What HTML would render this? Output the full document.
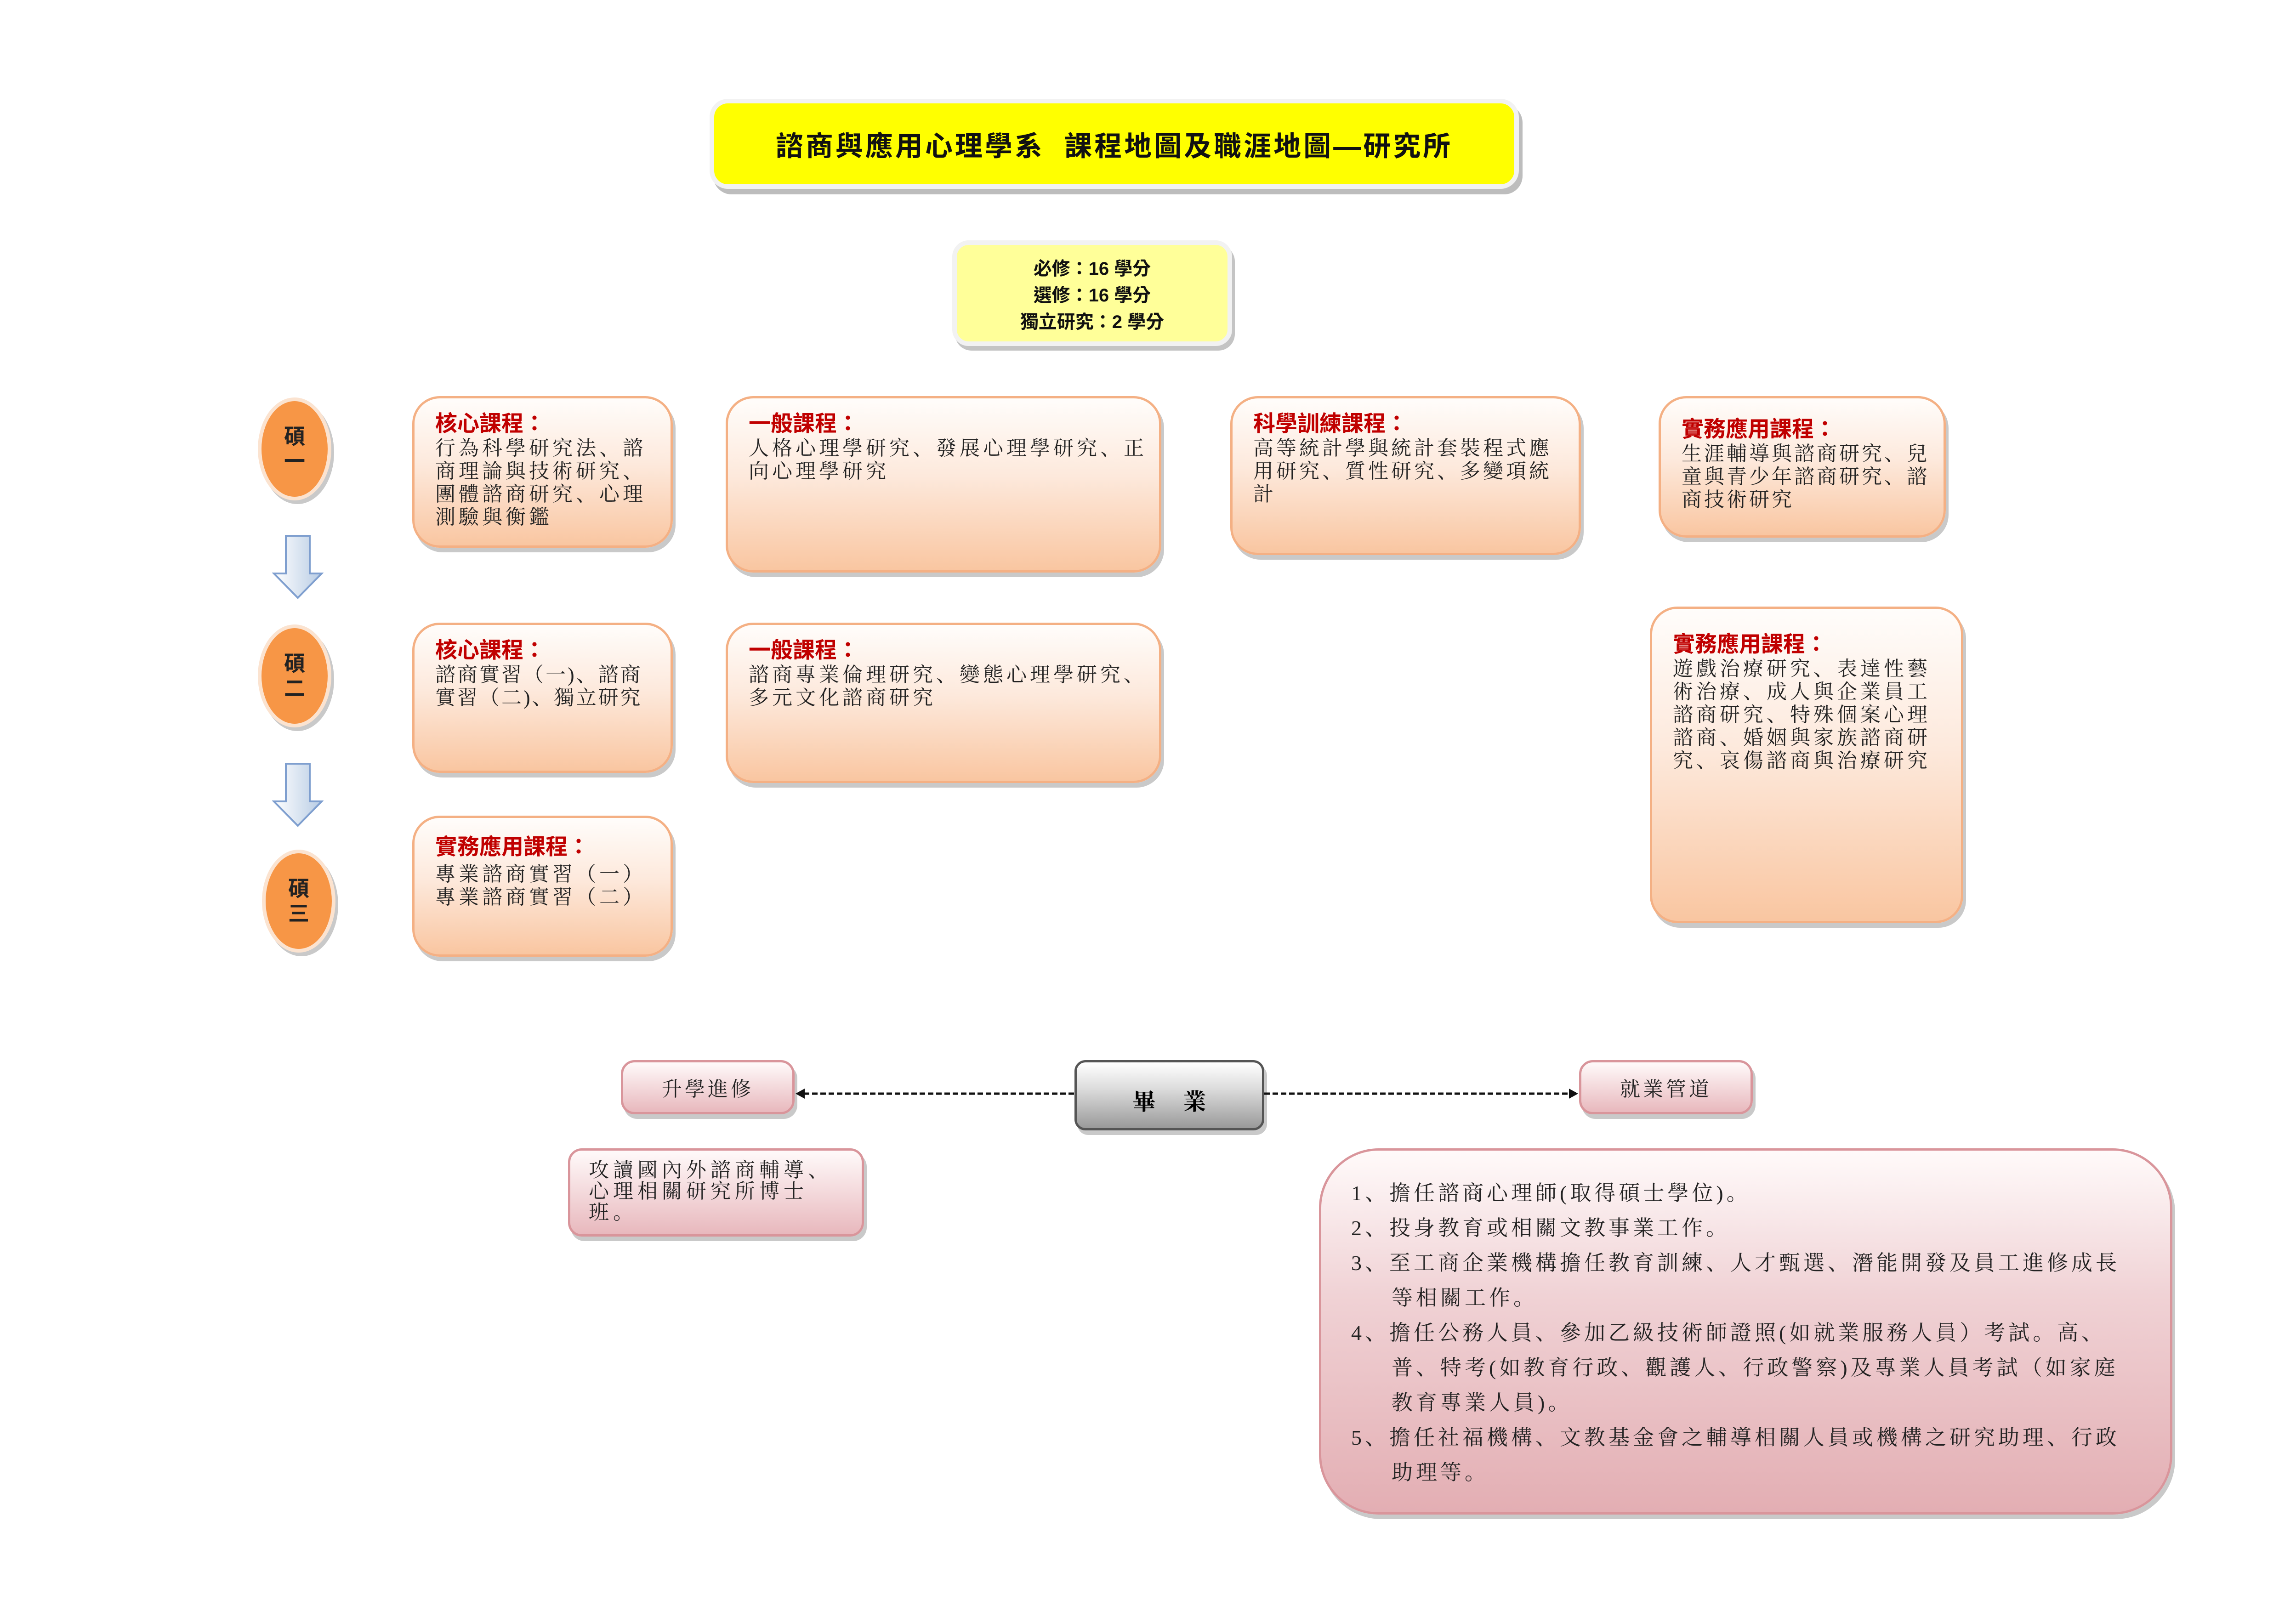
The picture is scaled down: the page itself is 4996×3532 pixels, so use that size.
<!DOCTYPE html>
<html><head><meta charset="utf-8"><style>
body{margin:0;width:4996px;height:3532px;background:#fff;position:relative;overflow:hidden;font-family:"Liberation Serif","Noto Serif CJK SC",serif;}
#w{position:absolute;left:0;top:0;width:4996px;height:3532px;transform:translate(-16px,-9px);}
.a{position:absolute;box-sizing:border-box;}
.or{border:5px solid #f4b084;border-radius:60px;background:linear-gradient(#fffdfb,#fde9dc 45%,#f9c6a1);box-shadow:6px 10px 0 #c9c9c9;padding:28px 10px 0 45px;font-size:44px;line-height:50px;letter-spacing:7px;color:#222;white-space:nowrap;}
.or b{display:block;color:#c00000;font-family:"Liberation Sans","Noto Sans CJK TC",sans-serif;font-size:48px;letter-spacing:0;line-height:56px;font-weight:bold;}
.pk{border:5px solid #d9959b;border-radius:30px;background:linear-gradient(#fffafa,#e8b8bd);box-shadow:6px 10px 0 #c9c9c9;color:#222;font-size:44px;letter-spacing:6px;white-space:nowrap;}
.circ{border-radius:50%;background:#f79646;border:8px solid #fbe3d0;box-shadow:6px 8px 0 #c9c9c9;font-family:"Liberation Sans","Noto Sans CJK TC",sans-serif;font-weight:bold;font-size:46px;line-height:54px;text-align:center;color:#222;display:flex;align-items:center;justify-content:center;}
.arr{width:112px;height:141px;}
.cr div{padding-left:88px;text-indent:-88px}
</style></head><body><div id="w">
<div class="a" style="left:1560px;top:224px;width:1761px;height:196px;background:#ffff00;border:10px solid #f2f2f2;border-radius:40px;box-shadow:8px 12px 0 #bdbdbd;font-family:'Liberation Sans','Noto Sans CJK TC',sans-serif;font-weight:bold;font-size:60px;letter-spacing:5px;display:flex;align-items:center;justify-content:center;color:#111;">諮商與應用心理學系&nbsp;&nbsp;課程地圖及職涯地圖—研究所</div>
<div class="a" style="left:2088px;top:532px;width:609px;height:230px;background:#ffff99;border:10px solid #f2f2f2;border-radius:36px;box-shadow:6px 10px 0 #c4c4c4;font-family:'Liberation Sans','Noto Sans CJK TC',sans-serif;font-weight:bold;font-size:40px;line-height:58px;text-align:center;padding-top:23px;color:#111;">必修：16 學分<br>選修：16 學分<br>獨立研究：2 學分</div>

<div class="a circ" style="left:577px;top:874px;width:160px;height:224px;">碩<br>一</div>
<div class="a circ" style="left:577px;top:1368px;width:160px;height:224px;">碩<br>二</div>
<div class="a circ" style="left:586px;top:1858px;width:160px;height:224px;">碩<br>三</div>

<svg class="a arr" style="left:608px;top:1172px" viewBox="0 0 112 141"><defs><linearGradient id="g" x1="0" x2="1"><stop offset="0" stop-color="#fff"/><stop offset="1" stop-color="#b8cce4"/></linearGradient></defs><polygon points="30,3 82,3 82,85 108,85 56,138 4,85 30,85" fill="url(#g)" stroke="#7f9fcf" stroke-width="4"/></svg>
<svg class="a arr" style="left:608px;top:1668px" viewBox="0 0 112 141"><polygon points="30,3 82,3 82,85 108,85 56,138 4,85 30,85" fill="url(#g)" stroke="#7f9fcf" stroke-width="4"/></svg>

<div class="a or" style="left:913px;top:871px;width:567px;height:330px;"><b>核心課程：</b>行為科學研究法、諮<br>商理論與技術研究、<br>團體諮商研究、心理<br>測驗與衡鑑</div>
<div class="a or" style="left:1595px;top:871px;width:948px;height:384px;"><b>一般課程：</b>人格心理學研究、發展心理學研究、正<br>向心理學研究</div>
<div class="a or" style="left:2693px;top:871px;width:763px;height:346px;letter-spacing:6px;"><b>科學訓練課程：</b>高等統計學與統計套裝程式應<br>用研究、質性研究、多變項統<br>計</div>
<div class="a or" style="left:3625px;top:871px;width:625px;height:308px;padding-top:40px;letter-spacing:5px;"><b>實務應用課程：</b>生涯輔導與諮商研究、兒<br>童與青少年諮商研究、諮<br>商技術研究</div>

<div class="a or" style="left:913px;top:1364px;width:567px;height:327px;letter-spacing:4px;"><b>核心課程：</b>諮商實習（一)、諮商<br>實習（二)、獨立研究</div>
<div class="a or" style="left:1595px;top:1364px;width:948px;height:349px;"><b>一般課程：</b>諮商專業倫理研究、變態心理學研究、<br>多元文化諮商研究</div>
<div class="a or" style="left:3606px;top:1329px;width:682px;height:689px;padding-top:50px;"><b>實務應用課程：</b>遊戲治療研究、表達性藝<br>術治療、成人與企業員工<br>諮商研究、特殊個案心理<br>諮商、婚姻與家族諮商研<br>究、哀傷諮商與治療研究</div>

<div class="a or" style="left:913px;top:1784px;width:567px;height:307px;padding-top:36px;"><b style="margin-bottom:6px">實務應用課程：</b>專業諮商實習（一）<br>專業諮商實習（二）</div>

<div class="a pk" style="left:1367px;top:2316px;width:378px;height:118px;display:flex;align-items:center;justify-content:center;">升學進修</div>
<div class="a pk" style="left:3452px;top:2316px;width:378px;height:118px;display:flex;align-items:center;justify-content:center;">就業管道</div>
<div class="a" style="left:2354px;top:2316px;width:413px;height:153px;border:5px solid #555;border-radius:24px;background:linear-gradient(#fff,#dcdcdc 40%,#9a9a9a);box-shadow:6px 10px 0 #c9c9c9;font-weight:bold;font-size:50px;display:flex;align-items:center;justify-content:center;letter-spacing:60px;padding-left:60px;padding-top:20px;">畢業</div>

<svg class="a" style="left:1745px;top:2370px;width:1707px;height:40px" viewBox="0 0 1707 40">
<line x1="20" y1="19" x2="609" y2="19" stroke="#111" stroke-width="5" stroke-dasharray="12,6"/>
<polygon points="2,19 22,8 22,30" fill="#111"/>
<line x1="1022" y1="19" x2="1688" y2="19" stroke="#111" stroke-width="5" stroke-dasharray="12,6"/>
<polygon points="1705,19 1685,8 1685,30" fill="#111"/>
</svg>

<div class="a pk" style="left:1252px;top:2508px;width:644px;height:192px;padding:20px 20px 0 40px;line-height:46px;letter-spacing:9px;">攻讀國內外諮商輔導、<br>心理相關研究所博士<br>班。</div>

<div class="a pk cr" style="left:2886px;top:2508px;width:1857px;height:797px;border-radius:130px;padding:55px 20px 0 65px;font-size:46px;line-height:76px;letter-spacing:7px;background:linear-gradient(#fffafa,#f0d2d5 40%,#e3aeb3);">
<div>1、擔任諮商心理師(取得碩士學位)。</div>
<div>2、投身教育或相關文教事業工作。</div>
<div>3、至工商企業機構擔任教育訓練、人才甄選、潛能開發及員工進修成長<br>等相關工作。</div>
<div>4、擔任公務人員、參加乙級技術師證照(如就業服務人員）考試。高、<br>普、特考(如教育行政、觀護人、行政警察)及專業人員考試（如家庭<br>教育專業人員)。</div>
<div>5、擔任社福機構、文教基金會之輔導相關人員或機構之研究助理、行政<br>助理等。</div>
</div>
</div></body></html>
